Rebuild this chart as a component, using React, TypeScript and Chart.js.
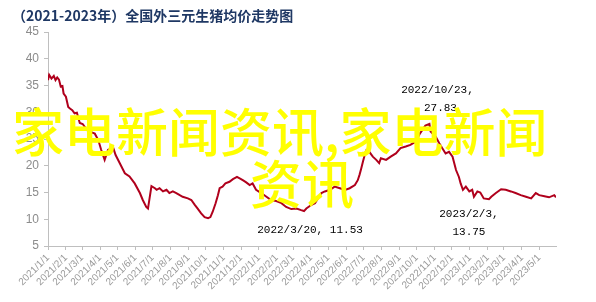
import React, { useEffect, useRef } from 'react';
import { Chart, registerables } from 'chart.js';

Chart.register(...registerables);

const TITLE = '（2021-2023年）全国外三元生猪均价走势图';
const WATERMARK_LINE1 = '家电新闻资讯,家电新闻';
const WATERMARK_LINE2 = '资讯';

const dates: string[] = [
  '2021-01-01','2021-01-03','2021-01-07','2021-01-11','2021-01-14','2021-01-17','2021-01-20','2021-01-23','2021-01-26','2021-01-28',
  '2021-02-01','2021-02-05','2021-02-08','2021-02-12','2021-02-16','2021-02-20','2021-02-25','2021-03-02','2021-03-11','2021-03-23',
  '2021-03-29','2021-04-03','2021-04-09','2021-04-15','2021-04-24','2021-04-28','2021-05-05','2021-05-14','2021-05-22','2021-05-31',
  '2021-06-09','2021-06-14','2021-06-20','2021-06-23','2021-06-29','2021-07-05','2021-07-08','2021-07-13','2021-07-19','2021-07-25',
  '2021-07-30','2021-08-05','2021-08-11','2021-08-17','2021-08-22','2021-08-31','2021-09-06','2021-09-12','2021-09-17','2021-09-23',
  '2021-09-29','2021-10-05','2021-10-09','2021-10-13','2021-10-18','2021-10-22','2021-10-25','2021-10-30','2021-11-04','2021-11-11',
  '2021-11-17','2021-11-24','2021-12-01','2021-12-04','2021-12-10','2021-12-16','2021-12-21','2021-12-27','2022-01-05','2022-01-14',
  '2022-01-22','2022-01-31','2022-02-09','2022-02-17','2022-02-26','2022-03-07','2022-03-15','2022-03-20','2022-03-24','2022-04-02',
  '2022-04-08','2022-04-13','2022-04-19','2022-04-25','2022-05-04','2022-05-12','2022-05-21','2022-05-30','2022-06-07','2022-06-16',
  '2022-06-21','2022-06-24','2022-06-27','2022-06-30','2022-07-03','2022-07-06','2022-07-11','2022-07-17','2022-07-23','2022-07-28',
  '2022-07-31','2022-08-09','2022-08-17','2022-08-26','2022-09-03','2022-09-12','2022-09-20','2022-09-29','2022-10-07','2022-10-16',
  '2022-10-23','2022-10-25','2022-11-03','2022-11-09','2022-11-14','2022-11-20','2022-11-26','2022-12-02','2022-12-08','2022-12-13',
  '2022-12-16','2022-12-20','2022-12-25','2022-12-31','2023-01-05','2023-01-08','2023-01-14','2023-01-19','2023-01-25','2023-02-03',
  '2023-02-07','2023-02-15','2023-02-24','2023-03-04','2023-03-13','2023-03-21','2023-03-30','2023-04-08','2023-04-17','2023-04-25',
  '2023-05-01','2023-05-10','2023-05-18','2023-05-27','2023-05-30',
];

const prices: number[] = [
  36.0,37.0,36.3,36.8,36.0,36.5,36.1,34.8,34.9,33.5,
  32.9,31.0,30.7,30.4,29.8,29.9,28.0,27.8,26.5,26.0,
  24.8,23.0,21.1,23.0,23.3,22.0,20.5,18.6,18.0,16.7,
  14.9,13.6,12.3,12.0,16.2,15.8,15.5,15.8,15.2,15.5,
  14.9,15.2,14.9,14.5,14.2,13.9,13.6,12.7,12.0,11.1,
  10.4,10.2,10.4,11.4,13.0,14.5,15.8,16.1,16.7,17.0,
  17.5,17.9,17.5,17.3,16.9,16.4,16.7,15.5,14.9,14.2,
  13.6,13.4,13.0,12.3,11.9,12.0,11.7,11.53,12.0,12.7,
  13.0,13.9,14.9,15.2,15.5,16.1,15.8,15.5,15.8,16.4,
  17.3,18.3,19.5,20.8,22.0,22.9,22.6,21.7,21.1,20.5,
  21.4,21.1,21.7,22.3,23.3,23.6,23.9,24.5,26.1,27.5,
  27.83,26.4,25.4,24.2,23.3,22.3,22.6,21.7,19.2,17.9,
  16.7,15.5,16.1,15.2,15.5,14.2,15.2,15.0,13.9,13.75,
  14.2,14.9,15.6,15.5,15.2,14.9,14.5,14.2,13.9,14.9,
  14.5,14.3,14.1,14.5,14.1,
];

const tickLabels: string[] = [
  '2021/1/1','2021/2/1','2021/3/1','2021/4/1','2021/5/1','2021/6/1','2021/7/1','2021/8/1','2021/9/1','2021/10/1','2021/11/1','2021/12/1',
  '2022/1/1','2022/2/1','2022/3/1','2022/4/1','2022/5/1','2022/6/1','2022/7/1','2022/8/1','2022/9/1','2022/10/1','2022/11/1','2022/12/1',
  '2023/1/1','2023/2/1','2023/3/1','2023/4/1','2023/5/1',
];

const yTicks: number[] = [5, 10, 15, 20, 25, 30, 35, 40, 45];

const annotationDates: string[] = ['2022-10-23', '2022-03-20', '2023-02-03'];
const annotationValues: number[] = [27.83, 11.53, 13.75];
const annotationLines: string[][] = [
  ['2022/10/23,', '27.83'],
  ['2022/3/20, 11.53'],
  ['2023/2/3,', '13.75'],
];
const annotationOffsets: number[][][] = [
  [[8, -34], [11, -16]],
  [[6, 19]],
  [[-20, 15], [-20, 33]],
];

const DAY_MS = 86400000;
const BASE = Date.UTC(2021, 0, 1);
const toDay = (s: string): number => {
  const [y, m, d] = s.split(/[-/]/).map(Number);
  return Math.round((Date.UTC(y, m - 1, d) - BASE) / DAY_MS);
};
const dayToLabel = new Map<number, string>(tickLabels.map((l) => [toDay(l), l]));

const overlayPlugin = {
  id: 'overlay',
  afterDatasetsDraw(chart: any) {
    const ctx = chart.ctx;
    const xs = chart.scales.x;
    const ys = chart.scales.y;
    ctx.save();
    ctx.fillStyle = '#000000';
    ctx.font = '11px "Liberation Mono", monospace';
    ctx.textAlign = 'center';
    ctx.textBaseline = 'middle';
    annotationDates.forEach((d, i) => {
      const px = xs.getPixelForValue(toDay(d));
      const py = ys.getPixelForValue(annotationValues[i]);
      annotationLines[i].forEach((line, j) => {
        const [dx, dy] = annotationOffsets[i][j];
        ctx.fillText(line, px + dx, py + dy);
      });
    });
    ctx.restore();
  },
  afterDraw(chart: any) {
    const ctx = chart.ctx;
    ctx.save();
    // title
    ctx.fillStyle = '#1F3864';
    ctx.font = 'bold 14px "Noto Sans CJK SC", sans-serif';
    ctx.textAlign = 'left';
    ctx.textBaseline = 'middle';
    ctx.fillText(TITLE, 12, 16);
    // watermark
    ctx.fillStyle = '#FFFF00';
    ctx.font = '500 52px "Noto Sans CJK SC", sans-serif';
    ctx.fillText(WATERMARK_LINE1, 12, 132);
    ctx.fillText(WATERMARK_LINE2, 250, 184);
    ctx.restore();
  },
};

export default function App() {
  const canvasRef = useRef<HTMLCanvasElement | null>(null);

  useEffect(() => {
    if (!canvasRef.current) return;
    const points = dates.map((d, i) => ({ x: toDay(d), y: prices[i] }));
    const chart = new Chart(canvasRef.current, {
      type: 'line',
      data: {
        datasets: [
          {
            data: points,
            borderColor: '#B0001C',
            borderWidth: 2,
            pointRadius: 0,
            tension: 0,
            fill: false,
          },
        ],
      },
      options: {
        animation: false,
        responsive: true,
        maintainAspectRatio: false,
        layout: { padding: { top: 32, right: 40, left: 0, bottom: 0 } },
        plugins: {
          legend: { display: false },
          tooltip: { enabled: false },
          title: { display: false },
        },
        scales: {
          x: {
            type: 'linear',
            min: 0,
            max: toDay(dates[dates.length - 1]),
            afterBuildTicks: (scale: any) => {
              scale.ticks = tickLabels.map((l) => ({ value: toDay(l) }));
            },
            afterFit: (scale: any) => {
              scale.height = 56;
            },
            ticks: {
              autoSkip: false,
              minRotation: 45,
              maxRotation: 45,
              padding: 2,
              color: '#9a9a9a',
              font: { family: '"Liberation Sans", Arial, sans-serif', size: 10 },
              callback: (v: any) => dayToLabel.get(Number(v)) ?? '',
            },
            grid: {
              display: true,
              drawOnChartArea: false,
              drawTicks: true,
              tickLength: 4,
              color: '#bfbfbf',
            },
            border: { display: true, color: '#bfbfbf', width: 1 },
          },
          y: {
            min: 5,
            max: 45,
            afterBuildTicks: (scale: any) => {
              scale.ticks = yTicks.map((v) => ({ value: v }));
            },
            afterFit: (scale: any) => {
              scale.width = 48;
            },
            ticks: {
              padding: 5,
              color: '#8c8c8c',
              font: { family: '"Liberation Sans", Arial, sans-serif', size: 12 },
            },
            grid: {
              display: true,
              drawOnChartArea: false,
              drawTicks: true,
              tickLength: 4,
              color: '#bfbfbf',
            },
            border: { display: true, color: '#bfbfbf', width: 1 },
          },
        },
      },
      plugins: [overlayPlugin],
    });
    return () => chart.destroy();
  }, []);

  return (
    <div style={{ position: 'fixed', left: 0, top: 0, width: 596, height: 302, background: '#ffffff' }}>
      <canvas ref={canvasRef} />
    </div>
  );
}
